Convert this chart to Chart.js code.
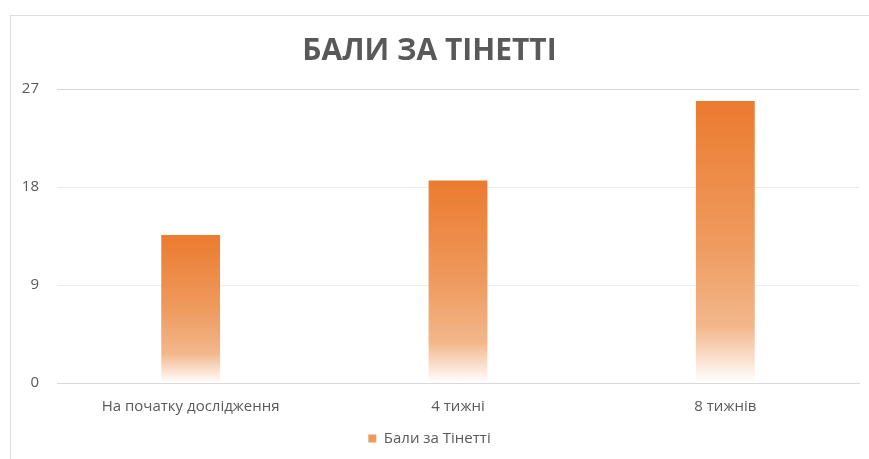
<!DOCTYPE html>
<html>
<head>
<meta charset="utf-8">
<script src="https://cdn.jsdelivr.net/npm/chart.js@4.4.0/dist/chart.umd.min.js"></script>
<style>
  html, body { margin: 0; padding: 0; background: #fff; }
  #wrap { position: relative; width: 869px; height: 459px; overflow: hidden; }
  #frame { position: absolute; left: 10px; top: 15px; width: 880px; height: 470px; border: 1px solid #dedede; box-sizing: border-box; }
  canvas { position: absolute; left: 0; top: 0; }
</style>
</head>
<body>
<div id="wrap">
  <div id="frame"></div>
  <canvas id="graphTinetti" width="869" height="459"></canvas>
</div>
<script>
const categories = ['На початку дослідження', '4 тижні', '8 тижнів'];
const tinettiScores = [13.6, 18.6, 25.9];
const yTicks = [0, 9, 18, 27];
const seriesName = 'Бали за Тінетті';
const chartTitle = 'БАЛИ ЗА ТІНЕТТІ';

function barGradient(context) {
  const chart = context.chart;
  const yScale = chart.scales.y;
  if (!yScale || context.parsed === undefined) return '#ED7D31';
  const top = yScale.getPixelForValue(context.parsed.y);
  const base = yScale.getPixelForValue(0);
  if (!isFinite(top) || !isFinite(base) || base === top) return '#ED7D31';
  const g = chart.ctx.createLinearGradient(0, top, 0, base);
  g.addColorStop(0, '#EB7B2F');
  g.addColorStop(0.5, '#EF9A5E');
  g.addColorStop(0.8, '#F3B78B');
  g.addColorStop(1, '#FFFFFF');
  return g;
}

const ctx = document.getElementById('graphTinetti');
new Chart(ctx, {
  type: 'bar',
  data: {
    labels: categories,
    datasets: [{
      label: seriesName,
      data: tinettiScores,
      backgroundColor: barGradient,
      borderWidth: 0,
      barPercentage: 1,
      categoryPercentage: 0.22
    }]
  },
  options: {
    responsive: false,
    animation: false,
    devicePixelRatio: 1,
    layout: { padding: { left: 0, right: 10, top: 33, bottom: 3 } },
    plugins: {
      title: {
        display: true,
        text: chartTitle,
        color: '#595959',
        font: { family: 'Open Sans', size: 30, weight: 'bold' },
        padding: { top: 0, bottom: 20 }
      },
      legend: {
        position: 'bottom',
        labels: {
          color: '#595959',
          font: { family: 'Open Sans', size: 15 },
          boxWidth: 8,
          boxHeight: 8,
          padding: 0,
          generateLabels: (chart) => [{
            text: seriesName,
            fillStyle: '#EE9A5F',
            strokeStyle: '#EE9A5F',
            lineWidth: 0,
            fontColor: '#595959',
            datasetIndex: 0
          }]
        }
      },
      tooltip: { enabled: false }
    },
    scales: {
      x: {
        grid: { display: false, drawTicks: false },
        border: { display: true, color: '#d9d9d9', width: 1 },
        ticks: {
          color: '#595959',
          font: { family: 'Open Sans', size: 15 },
          padding: 15,
          maxRotation: 0
        }
      },
      y: {
        min: 0,
        max: 27,
        afterFit: (scale) => { scale.width = 57; },
        afterBuildTicks: (scale) => { scale.ticks = yTicks.map(v => ({ value: v })); },
        grid: {
          drawTicks: false,
          color: (c) => (c.tick && (c.tick.value === 27 || c.tick.value === 0)) ? '#d4d4d4' : '#ececec',
          lineWidth: 1
        },
        border: { display: false },
        ticks: {
          color: '#595959',
          font: { family: 'Open Sans', size: 15 },
          padding: 18
        }
      }
    }
  }
});
</script>
</body>
</html>
